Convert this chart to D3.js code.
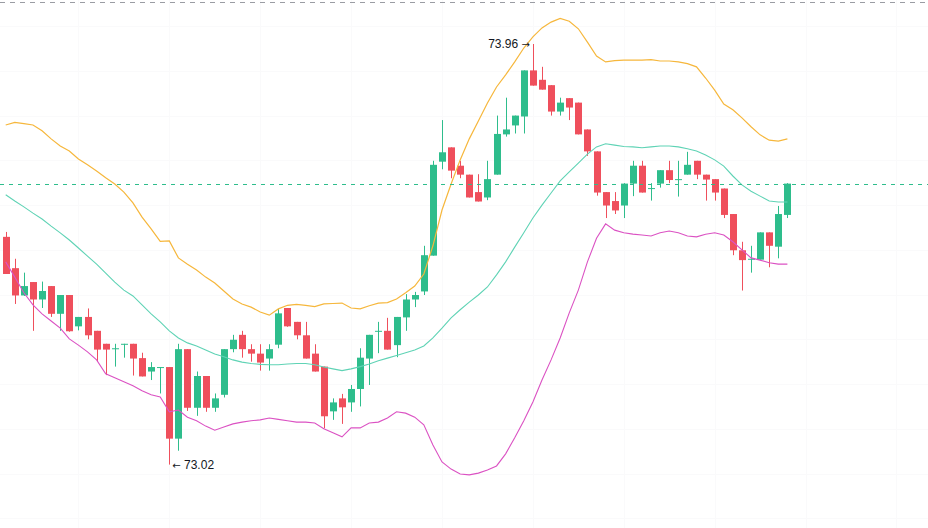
<!DOCTYPE html>
<html>
<head>
<meta charset="utf-8">
<script src="https://cdn.jsdelivr.net/npm/d3@7"></script>
<style>
  html, body { margin: 0; padding: 0; background: #fff; }
  svg { display: block; }
</style>
</head>
<body>
<script>
// candle data (one entry per bar, oldest first)
let open = [73.529,73.459,73.398,73.428,73.389,73.419,73.357,73.399,73.329,73.350,
  73.319,73.290,73.278,73.288,73.290,73.258,73.228,73.237,73.238,73.078,
  73.278,73.147,73.218,73.147,73.176,73.278,73.310,73.278,73.268,73.257,
  73.288,73.370,73.339,73.309,73.268,73.239,73.139,73.168,73.159,73.189,
  73.257,73.318,73.319,73.287,73.349,73.389,73.407,73.487,73.697,73.729,
  73.688,73.668,73.629,73.617,73.668,73.758,73.778,73.798,73.901,73.880,
  73.868,73.809,73.839,73.829,73.769,73.720,73.629,73.609,73.599,73.648,
  73.688,73.637,73.648,73.678,73.657,73.668,73.699,73.668,73.658,73.637,
  73.580,73.499,73.478,73.478,73.539,73.507,73.578];
let high = [73.540,73.480,73.449,73.428,73.429,73.419,73.399,73.399,73.350,73.369,
  73.319,73.290,73.290,73.290,73.290,73.270,73.249,73.238,73.238,73.290,
  73.278,73.228,73.218,73.179,73.278,73.310,73.319,73.289,73.289,73.289,
  73.368,73.370,73.339,73.339,73.289,73.239,73.168,73.178,73.198,73.280,
  73.310,73.339,73.348,73.350,73.401,73.406,73.509,73.699,73.790,73.729,
  73.699,73.668,73.669,73.699,73.800,73.840,73.800,73.901,73.960,73.909,
  73.868,73.840,73.839,73.829,73.769,73.720,73.629,73.629,73.649,73.699,
  73.699,73.649,73.678,73.699,73.699,73.719,73.699,73.668,73.658,73.637,
  73.580,73.518,73.509,73.539,73.539,73.598,73.649];
let low = [73.446,73.379,73.397,73.319,73.370,73.350,73.319,73.317,73.320,73.300,
  73.250,73.220,73.239,73.259,73.219,73.217,73.209,73.179,73.020,73.051,
  73.140,73.129,73.138,73.138,73.170,73.271,73.259,73.250,73.230,73.230,
  73.280,73.328,73.300,73.257,73.228,73.101,73.120,73.111,73.138,73.150,
  73.198,73.269,73.277,73.260,73.319,73.372,73.399,73.487,73.680,73.660,
  73.660,73.617,73.608,73.611,73.668,73.753,73.760,73.760,73.867,73.858,
  73.800,73.800,73.790,73.758,73.710,73.621,73.571,73.580,73.571,73.620,
  73.628,73.610,73.639,73.649,73.619,73.668,73.658,73.610,73.610,73.571,
  73.488,73.409,73.449,73.478,73.461,73.481,73.571];
let close = [73.446,73.398,73.419,73.389,73.408,73.357,73.399,73.318,73.350,73.309,
  73.277,73.277,73.280,73.290,73.257,73.217,73.238,73.238,73.078,73.278,
  73.147,73.218,73.147,73.168,73.278,73.299,73.278,73.268,73.248,73.278,
  73.358,73.329,73.309,73.257,73.228,73.128,73.159,73.148,73.189,73.259,
  73.310,73.319,73.277,73.350,73.389,73.399,73.488,73.690,73.718,73.677,
  73.668,73.617,73.608,73.658,73.759,73.769,73.800,73.901,73.867,73.858,
  73.809,73.829,73.818,73.758,73.720,73.628,73.599,73.588,73.648,73.688,
  73.628,73.638,73.678,73.656,73.658,73.690,73.668,73.657,73.628,73.578,
  73.499,73.477,73.480,73.539,73.509,73.580,73.648];

// bollinger bands
let upper = [73.779,73.785,73.782,73.779,73.766,73.748,73.732,73.721,73.703,73.690,
  73.676,73.661,73.647,73.629,73.605,73.573,73.547,73.519,73.520,73.482,
  73.468,73.455,73.439,73.426,73.408,73.390,73.379,73.372,73.361,73.354,
  73.368,73.376,73.378,73.376,73.373,73.379,73.380,73.381,73.370,73.368,
  73.375,73.381,73.382,73.390,73.404,73.419,73.446,73.509,73.589,73.647,
  73.701,73.748,73.788,73.828,73.864,73.891,73.920,73.951,73.976,73.996,
  74.009,74.017,74.011,73.994,73.964,73.933,73.920,73.923,73.924,73.924,
  73.924,73.925,73.922,73.922,73.920,73.916,73.909,73.884,73.857,73.826,
  73.813,73.795,73.775,73.757,73.745,73.743,73.748];
let middle = [73.623,73.609,73.596,73.582,73.569,73.553,73.538,73.522,73.504,73.486,
  73.468,73.448,73.428,73.410,73.397,73.377,73.357,73.339,73.319,73.303,
  73.292,73.285,73.276,73.267,73.261,73.254,73.249,73.246,73.244,73.243,
  73.243,73.245,73.246,73.246,73.243,73.238,73.234,73.230,73.234,73.239,
  73.245,73.252,73.258,73.264,73.270,73.276,73.285,73.303,73.325,73.348,
  73.366,73.383,73.399,73.417,73.444,73.473,73.506,73.538,73.571,73.600,
  73.627,73.654,73.674,73.694,73.714,73.730,73.737,73.734,73.731,73.730,
  73.728,73.730,73.732,73.732,73.730,73.726,73.721,73.712,73.701,73.687,
  73.665,73.645,73.631,73.620,73.609,73.607,73.607];
let lower = [73.473,73.439,73.404,73.377,73.357,73.341,73.325,73.301,73.287,73.272,
  73.254,73.223,73.214,73.205,73.196,73.185,73.176,73.171,73.138,73.142,
  73.126,73.118,73.106,73.097,73.104,73.111,73.115,73.118,73.120,73.124,
  73.121,73.118,73.115,73.115,73.113,73.100,73.091,73.082,73.102,73.102,
  73.113,73.115,73.124,73.138,73.135,73.126,73.109,73.064,73.026,73.010,
  72.999,72.997,73.001,73.008,73.017,73.044,73.080,73.118,73.160,73.209,
  73.254,73.303,73.359,73.410,73.473,73.526,73.558,73.544,73.538,73.535,
  73.533,73.531,73.538,73.542,73.538,73.531,73.529,73.535,73.538,73.533,
  73.518,73.500,73.482,73.477,73.471,73.468,73.468];

let topLevel = 74.054;      // grey dashed level at the top
let gridPrices = [72.9, 73.0, 73.1, 73.2, 73.3, 73.4, 73.5, 73.6, 73.7, 73.8, 73.9, 74.0];
let gridBars = [8, 18, 28, 38, 48, 58, 68, 78, 88, 98];

let width = 928, height = 528;
let upColor = "#2ebd8c", downColor = "#ef4f5c";

let bars = close.map((c, i) => ({ i: i, o: open[i], h: high[i], l: low[i], c: c }));

let x = d3.scaleLinear().domain([0, bars.length - 1]).range([5.7, 787.4]);
let y = d3.scaleLinear().domain([73.02, 73.96]).range([464.6, 44]);

let svg = d3.select("body").append("svg")
  .attr("width", width)
  .attr("height", height)
  .attr("font-family", "'Liberation Sans', Arial, sans-serif");

svg.append("rect").attr("width", width).attr("height", height).attr("fill", "#fff");

// grid, almost invisible
let grid = svg.append("g").attr("stroke", "#fafafb").attr("stroke-width", 1);
grid.selectAll(".h").data(gridPrices).join("line").attr("class", "h")
  .attr("x1", 0).attr("x2", width)
  .attr("y1", d => Math.round(y(d)) + 0.5).attr("y2", d => Math.round(y(d)) + 0.5);
grid.selectAll(".v").data(gridBars).join("line").attr("class", "v")
  .attr("y1", 0).attr("y2", height)
  .attr("x1", d => Math.round(x(d)) + 0.5).attr("x2", d => Math.round(x(d)) + 0.5);

// candles
let candle = svg.append("g").selectAll("g").data(bars).join("g")
  .attr("fill", d => d.c >= d.o ? upColor : downColor)
  .attr("stroke", d => d.c >= d.o ? upColor : downColor);

candle.append("line") // wick
  .attr("x1", d => Math.round(x(d.i)) + 0.5)
  .attr("x2", d => Math.round(x(d.i)) + 0.5)
  .attr("y1", d => y(d.h))
  .attr("y2", d => y(d.l))
  .attr("stroke-width", 1);

candle.append("rect") // body
  .attr("stroke", "none")
  .attr("x", d => Math.round(x(d.i)) - 3)
  .attr("width", 7)
  .attr("y", d => y(Math.max(d.o, d.c)))
  .attr("height", d => Math.max(1, Math.abs(y(d.o) - y(d.c))));

// bands on top of the candles
let line = d3.line().x((d, i) => x(i)).y(d => y(d));
svg.append("path").attr("d", line(upper)).attr("fill", "none")
  .attr("stroke", "#f6b73c").attr("stroke-width", 1.2);
svg.append("path").attr("d", line(middle)).attr("fill", "none")
  .attr("stroke", "#5fd3b5").attr("stroke-width", 1.1);
svg.append("path").attr("d", line(lower)).attr("fill", "none")
  .attr("stroke", "#db52c3").attr("stroke-width", 1.1);

// dashed levels
svg.append("line")
  .attr("x1", 0).attr("x2", width)
  .attr("y1", Math.round(y(topLevel)) + 0.5).attr("y2", Math.round(y(topLevel)) + 0.5)
  .attr("stroke", "#9a9ca3").attr("stroke-dasharray", "5,5");

let last = bars[bars.length - 1];
svg.append("line")
  .attr("x1", 0).attr("x2", width)
  .attr("y1", Math.round(y(last.c)) + 0.5).attr("y2", Math.round(y(last.c)) + 0.5)
  .attr("stroke", upColor).attr("stroke-dasharray", "4,5");

// high / low markers
let hiBar = bars.reduce((a, b) => b.h > a.h ? b : a);
let loBar = bars.reduce((a, b) => b.l < a.l ? b : a);

let hiText = svg.append("text")
  .attr("x", x(hiBar.i) - 3)
  .attr("y", y(hiBar.h))
  .attr("dy", "0.35em")
  .attr("text-anchor", "end")
  .attr("font-size", 12)
  .attr("fill", "#131722");
hiText.append("tspan").text(hiBar.h.toFixed(2) + " ");
hiText.append("tspan").attr("font-family", "'DejaVu Sans'").attr("font-size", 10).text("\u2192");

let loText = svg.append("text")
  .attr("x", x(loBar.i) + 3)
  .attr("y", y(loBar.l))
  .attr("dy", "0.35em")
  .attr("font-size", 12)
  .attr("fill", "#131722");
loText.append("tspan").attr("font-family", "'DejaVu Sans'").attr("font-size", 10).text("\u2190");
loText.append("tspan").text(" " + loBar.l.toFixed(2));
</script>
</body>
</html>
